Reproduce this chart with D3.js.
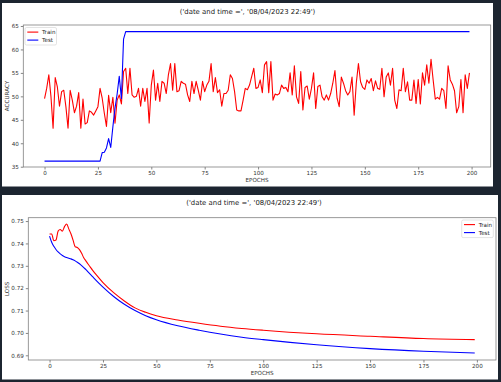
<!DOCTYPE html>
<html><head><meta charset="utf-8">
<script src="https://cdn.jsdelivr.net/npm/d3@7"></script>
<style>
body{margin:0;background:#1c2530;}
svg{display:block;}
text{font-family:"DejaVu Sans",sans-serif;}
</style></head>
<body>
<svg id="c" width="501" height="382"></svg>
<script>
const titleText = "('date and time =', '08/04/2023 22:49')";
const xTicks = [0,25,50,75,100,125,150,175,200];
const accTicks = [35,40,45,50,55,60,65];
const lossTicks = [0.69,0.70,0.71,0.72,0.73,0.74,0.75];

const trainAcc = [
49.5,51.7,54.6,50.0,43.2,54.0,52.0,47.9,51.0,51.3,
47.8,43.2,51.3,49.2,46.5,47.9,50.8,43.2,49.4,44.1,
44.4,46.9,46.6,46.0,46.9,47.8,51.7,49.6,46.4,43.6,
50.2,46.5,49.8,44.3,49.2,50.3,48.4,55.3,56.0,50.6,
56.0,50.3,49.8,50.0,51.7,47.9,51.7,48.9,51.7,44.3,
52.4,55.6,49.2,52.8,48.9,53.2,52.8,50.6,54.6,57.0,
51.3,57.0,51.0,51.2,53.2,52.8,52.6,50.3,48.9,53.2,
50.6,53.2,51.3,49.2,53.2,51.0,52.4,53.2,57.0,51.0,
54.0,50.8,51.4,47.9,50.6,50.6,51.3,54.6,53.8,51.0,
47.1,46.9,46.9,49.2,51.7,51.4,52.4,54.2,56.0,51.7,
51.9,53.5,50.8,56.7,57.4,50.8,57.4,49.2,50.5,50.3,
50.6,52.4,51.7,51.9,51.0,55.0,50.3,56.5,49.9,48.5,
55.3,47.1,51.9,52.2,49.4,51.7,55.0,47.4,52.1,52.4,
49.9,49.2,50.3,49.2,50.6,52.8,55.5,49.6,47.8,54.1,
52.8,51.2,50.3,51.0,54.1,46.0,52.8,57.0,53.1,51.9,
51.5,53.5,52.8,53.8,51.2,53.3,51.7,51.5,56.0,49.9,
54.1,55.0,52.4,56.0,49.2,47.4,51.4,51.2,56.0,51.0,
53.1,49.2,49.2,53.5,48.5,53.6,48.4,55.0,52.4,56.7,
52.8,57.9,53.5,49.4,49.8,49.4,51.7,51.2,47.4,56.5,
53.5,52.6,51.2,46.5,47.8,53.6,46.5,54.6,51.7,55.0
];
const testAccEpochs = [0,26,27,28,29,30,31,32,33,34,35,36,37,38,199];
const testAcc = [36.2,36.2,38.0,38.1,39.0,41.0,39.1,43.5,47.5,50.5,54.3,49.5,62.2,63.8,63.8];

const lossEpochs = [0,1,2,3,4,5,6,7,8,9,10,11,12,13,14,15,16,17,18,19,20,22,25,30,35,40,45,50,60,70,80,90,100,125,150,175,199];
const trainLoss = [0.7442,0.7442,0.7412,0.7415,0.7455,0.7462,0.7455,0.7475,0.7487,0.7465,
0.7443,0.7415,0.7385,0.7382,0.7372,0.7356,0.7336,0.7322,0.7308,0.7295,
0.7282,0.7258,0.7225,0.7180,0.7143,0.7112,0.7092,0.7077,0.7058,0.7043,
0.7030,0.7020,0.7012,0.6996,0.6985,0.6975,0.6970];
const testLoss = [0.7433,0.7405,0.7387,0.7373,0.7362,0.7353,0.7346,0.7341,0.7337,0.7334,
0.7331,0.7327,0.7322,0.7316,0.7309,0.7301,0.7292,0.7283,0.7273,0.7263,
0.7253,0.7233,0.7205,0.7163,0.7128,0.7100,0.7077,0.7059,0.7032,0.7012,
0.6995,0.6981,0.6970,0.6947,0.6930,0.6918,0.6910];

const svg = d3.select("#c");
const RED = "#ff0000", BLUE = "#0000ff", FRAME = "#808080";

function panel(o){
  svg.append("rect").attr("x",o.px).attr("y",o.py).attr("width",o.pw).attr("height",o.ph).attr("fill","#ffffff");
  const x = d3.scaleLinear().domain([-9.95,208.95]).range([o.l,o.r]);
  const y = d3.scaleLinear().domain(o.yDom).range([o.b,o.t]);
  const g = svg.append("g");
  g.append("text").attr("x",(o.px+o.pw/2)+o.tdx).attr("y",o.ty).attr("text-anchor","middle")
   .attr("font-size","6.9px").attr("fill","#222").text(titleText);
  const xa = g.append("g").attr("transform",`translate(0,${o.b})`)
   .call(d3.axisBottom(x).tickValues(xTicks).tickSize(2.5).tickPadding(2).tickFormat(d3.format("d")));
  const ya = g.append("g").attr("transform",`translate(${o.l},0)`)
   .call(d3.axisLeft(y).tickValues(o.yTicks).tickSize(2.5).tickPadding(2).tickFormat(o.yFmt));
  [xa,ya].forEach(a=>{a.select(".domain").remove();a.selectAll("line").attr("stroke","#333").attr("stroke-width",0.6);
    a.selectAll("text").attr("font-size","5.6px").attr("fill","#333").attr("font-family","DejaVu Sans");});
  g.append("text").attr("x",(o.l+o.r)/2).attr("y",o.b+14.5).attr("text-anchor","middle")
   .attr("font-size","5.6px").attr("fill","#333").text("EPOCHS");
  g.append("text").attr("transform",`translate(${o.yl},${(o.t+o.b)/2}) rotate(-90)`).attr("text-anchor","middle")
   .attr("font-size","5.6px").attr("fill","#333").text(o.ylabel);
  const clipId = "clip"+o.id;
  svg.append("clipPath").attr("id",clipId).append("rect").attr("x",o.l).attr("y",o.t).attr("width",o.r-o.l).attr("height",o.b-o.t);
  const lg = g.append("g").attr("clip-path",`url(#${clipId})`);
  o.series.forEach(s=>{
    const pts = s.xs.map((e,i)=>[e,s.ys[i]]);
    lg.append("path").datum(pts).attr("fill","none").attr("stroke",s.color).attr("stroke-width",1.1)
      .attr("stroke-linejoin","round")
      .attr("d",d3.line().x(d=>x(d[0])).y(d=>y(d[1])).curve(s.curve||d3.curveLinear));
  });
  g.append("rect").attr("x",o.l).attr("y",o.t).attr("width",o.r-o.l).attr("height",o.b-o.t)
   .attr("fill","none").attr("stroke",FRAME).attr("stroke-width",0.8);
  const L = o.leg;
  g.append("rect").attr("x",L.x).attr("y",L.y).attr("width",L.w).attr("height",L.h).attr("rx",1.5)
   .attr("fill","#fff").attr("fill-opacity",0.8).attr("stroke","#d0d0d0").attr("stroke-width",0.6);
  o.series.forEach((s,i)=>{
    const yy = L.y + 4.6 + i*8;
    g.append("line").attr("x1",L.x+2.3).attr("x2",L.x+13.3).attr("y1",yy).attr("y2",yy).attr("stroke",s.color).attr("stroke-width",1.1);
    g.append("text").attr("x",L.x+17).attr("y",yy+2).attr("font-size","5.6px").attr("fill","#222").text(s.name);
  });
}

const epochs = d3.range(trainAcc.length);
panel({id:"a", px:2, py:3, pw:491, ph:183.5, l:23.3, r:490.7, t:25, b:167, tdx:0, ty:13.8,
  yDom:[34.94,65.21], yTicks:accTicks, yFmt:d3.format("d"), ylabel:"ACCURACY", yl:8.5,
  leg:{x:25,y:27.5,w:31.5,h:17.5},
  series:[{name:"Train",color:RED,xs:epochs,ys:trainAcc},{name:"Test",color:BLUE,xs:testAccEpochs,ys:testAcc}]});
panel({id:"b", px:2, py:195, pw:496, ph:184.5, l:28.3, r:496, t:217.7, b:360, tdx:4, ty:205,
  yDom:[0.6879,0.7515], yTicks:lossTicks, yFmt:d3.format(".2f"), ylabel:"LOSS", yl:8.5,
  leg:{x:461.7,y:220,w:31.6,h:17.6},
  series:[{name:"Train",color:RED,xs:lossEpochs,ys:trainLoss,curve:d3.curveMonotoneX},{name:"Test",color:BLUE,xs:lossEpochs,ys:testLoss,curve:d3.curveMonotoneX}]});
</script>
</body></html>
